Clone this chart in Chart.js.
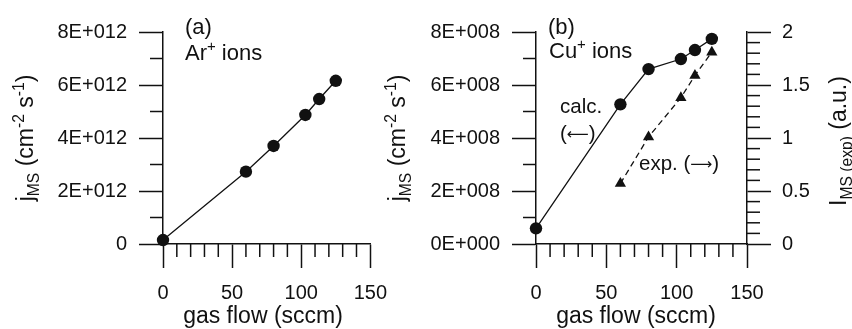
<!DOCTYPE html>
<html lang="en"><head>
<title>jMS vs gas flow</title>
<meta charset="utf-8">
<style type="text/css">
body { margin:0; background:#ffffff; }
#wrap { position:relative; width:852px; height:329px; }
#chartA { position:absolute; left:0; top:0; }
#chartB { position:absolute; left:380px; top:0; }
</style>
<script src="https://cdn.jsdelivr.net/npm/chart.js"></script>
<script>
// panel (a): Ar+ ions
flowAr=[0,60,80,103,113,125];
jAr=[0.15e12,2.73e12,3.70e12,4.87e12,5.47e12,6.16e12];
// panel (b): Cu+ ions, calculated (left axis) and measured (right axis)
flowCu=[0,60,80,103,113,125];
jCu=[0.59e8,5.27e8,6.60e8,6.98e8,7.32e8,7.74e8];
flowExp=[60,80,103,113,125];
iExp=[0.57,1.01,1.38,1.59,1.81];
// tick labels
xTicks=['0','50','100','150'];
yTicksA=['0','2E+012','4E+012','6E+012','8E+012'];
yTicksB=['0E+000','2E+008','4E+008','6E+008','8E+008'];
rTicksB=['0','0.5','1','1.5','2'];

ink='#111111';
fam="'Liberation Sans', Arial, sans-serif";
arrowFam="'DejaVu Sans', sans-serif";

// part = [text, 'sub'|'sup'|'', optional family, optional size factor, optional lift in em]
function partFont(p,size) {
  s=(p[1]?size*0.68:size)*(p[3]||1);
  return s+'px '+(p[2]||fam); }

function drawRich(ctx,parts,x,y,size,align,rot) {
  ctx.save(); ctx.translate(x,y); if (rot) ctx.rotate(rot);
  ctx.fillStyle=ink; ctx.textBaseline='alphabetic'; ctx.textAlign='left';
  w=0;
  parts.forEach(function(p){ ctx.font=partFont(p,size); w+=ctx.measureText(p[0]).width; });
  cx=(align=='center')?-w/2:0;
  parts.forEach(function(p){
    ctx.font=partFont(p,size);
    off=(p[1]=='sub')?size*0.24:(p[1]=='sup')?-size*0.42:0;
    off-=(p[4]||0)*size;
    ctx.fillText(p[0],cx,size*0.36+off);
    cx+=ctx.measureText(p[0]).width; });
  ctx.restore(); }

function textPlugin(items) {
  return {id:'texts',afterDraw:function(chart){
    items.forEach(function(it){ drawRich(chart.ctx,it.parts,it.x,it.y,it.size,it.align,it.rot); }); }}; }

// short minor ticks, the long major ones come from the grid itself
minorPlugin={id:'minor',beforeDatasetsDraw:function(chart){
  ctx=chart.ctx; ctx.save(); ctx.strokeStyle=ink; ctx.lineWidth=1.5;
  Object.values(chart.scales).forEach(function(s){
    n=s.options.majorEvery;
    s.ticks.forEach(function(t,i){
      if (i%n==0) return;
      p=s.getPixelForValue(t.value); ctx.beginPath();
      if (s.position=='bottom') { ctx.moveTo(p,s.top); ctx.lineTo(p,s.top+13); }
      else if (s.position=='left') { ctx.moveTo(s.right,p); ctx.lineTo(s.right-13,p); }
      else { ctx.moveTo(s.left,p); ctx.lineTo(s.left+13,p); }
      ctx.stroke(); }); });
  ctx.restore(); }};

function axis(extra,labels,n,fit) {
  a={type:'linear',majorEvery:n,
    ticks:{autoSkip:false,maxRotation:0,color:ink,font:{family:fam,size:20},padding:12,
      callback:function(v,i){ return (i%n==0)?labels[i/n]:''; }},
    grid:{drawOnChartArea:false,tickLength:24,tickWidth:1.5,
      tickColor:function(c){ return (c.index%n==0)?ink:'rgba(0,0,0,0)'; }},
    border:{color:ink,width:1.5},
    afterFit:fit};
  Object.keys(extra).forEach(function(k){ if (k=='ticks') Object.assign(a.ticks,extra.ticks); else a[k]=extra[k]; });
  return a; }

function pts(xs,ys) { return xs.map(function(x,i){ return {x:x,y:ys[i]}; }); }

function initCharts() {
  Chart.defaults.font.family=fam;
  xAxisOpts=function(){ return axis({position:'bottom',min:0,max:150,ticks:{stepSize:10,padding:13}},xTicks,5,
    function(s){ s.height=85; }); };

  new Chart(document.getElementById('chartA'),{type:'scatter',
    data:{datasets:[{data:pts(flowAr,jAr),showLine:true,borderColor:ink,borderWidth:1.3,
      pointRadius:6.2,pointHoverRadius:6.2,pointBackgroundColor:ink,pointBorderWidth:0,clip:false}]},
    options:{responsive:false,animation:false,layout:{padding:{top:32,right:24,left:0,bottom:0}},
      plugins:{legend:{display:false},tooltip:{enabled:false}},
      scales:{x:xAxisOpts(),
        y:axis({position:'left',min:0,max:8e12,ticks:{stepSize:1e12}},yTicksA,2,function(s){ s.width=163; })}},
    plugins:[minorPlugin,textPlugin([
      {parts:[['j',''],['MS','sub'],[' (cm',''],['-2','sup'],[' s',''],['-1','sup'],[')','']],x:25,y:138,size:23,align:'center',rot:-Math.PI/2},
      {parts:[['gas flow (sccm)','']],x:263,y:315,size:23,align:'center'},
      {parts:[['(a)','']],x:185,y:26,size:22,align:'left'},
      {parts:[['Ar',''],['+','sup'],[' ions','']],x:185,y:52,size:22,align:'left'}])]});

  new Chart(document.getElementById('chartB'),{type:'scatter',
    data:{datasets:[
      {data:pts(flowCu,jCu),yAxisID:'y',showLine:true,borderColor:ink,borderWidth:1.3,
        pointRadius:6.2,pointHoverRadius:6.2,pointBackgroundColor:ink,pointBorderWidth:0,clip:false},
      {data:pts(flowExp,iExp),yAxisID:'y1',showLine:true,borderColor:ink,borderWidth:1.3,borderDash:[6,4],
        pointStyle:'triangle',pointRadius:6.5,pointHoverRadius:6.5,pointBackgroundColor:ink,pointBorderWidth:0,clip:false}]},
    options:{responsive:false,animation:false,layout:{padding:{top:32,right:0,left:0,bottom:0}},
      plugins:{legend:{display:false},tooltip:{enabled:false}},
      scales:{x:xAxisOpts(),
        y:axis({position:'left',min:0,max:8e8,ticks:{stepSize:1e8}},yTicksB,2,function(s){ s.width=156; }),
        y1:axis({position:'right',min:0,max:2,ticks:{stepSize:0.1,padding:11}},rTicksB,5,function(s){ s.width=105; })}},
    plugins:[minorPlugin,textPlugin([
      {parts:[['j',''],['MS','sub'],[' (cm',''],['-2','sup'],[' s',''],['-1','sup'],[')','']],x:17,y:138,size:23,align:'center',rot:-Math.PI/2},
      {parts:[['I',''],['MS (exp)','sub'],[' (a.u.)','']],x:458,y:141,size:23,align:'center',rot:-Math.PI/2},
      {parts:[['gas flow (sccm)','']],x:256,y:315,size:23,align:'center'},
      {parts:[['(b)','']],x:168,y:26,size:22,align:'left'},
      {parts:[['Cu',''],['+','sup'],[' ions','']],x:169,y:50,size:22,align:'left'},
      {parts:[['calc.','']],x:180,y:106,size:20.5,align:'left'},
      {parts:[['(',''],['\u27F5','',arrowFam,0.75,0.08],[')','']],x:180,y:133,size:20.5,align:'left'},
      {parts:[['exp. (',''],['\u27F6','',arrowFam,0.75,0.08],[')','']],x:259,y:163,size:20.5,align:'left'}])]}); }
</script></head>
<body onload="initCharts();">
<div id="wrap">
  <canvas id="chartA" width="400" height="329"></canvas>
  <canvas id="chartB" width="472" height="329"></canvas>
</div>
</body></html>
